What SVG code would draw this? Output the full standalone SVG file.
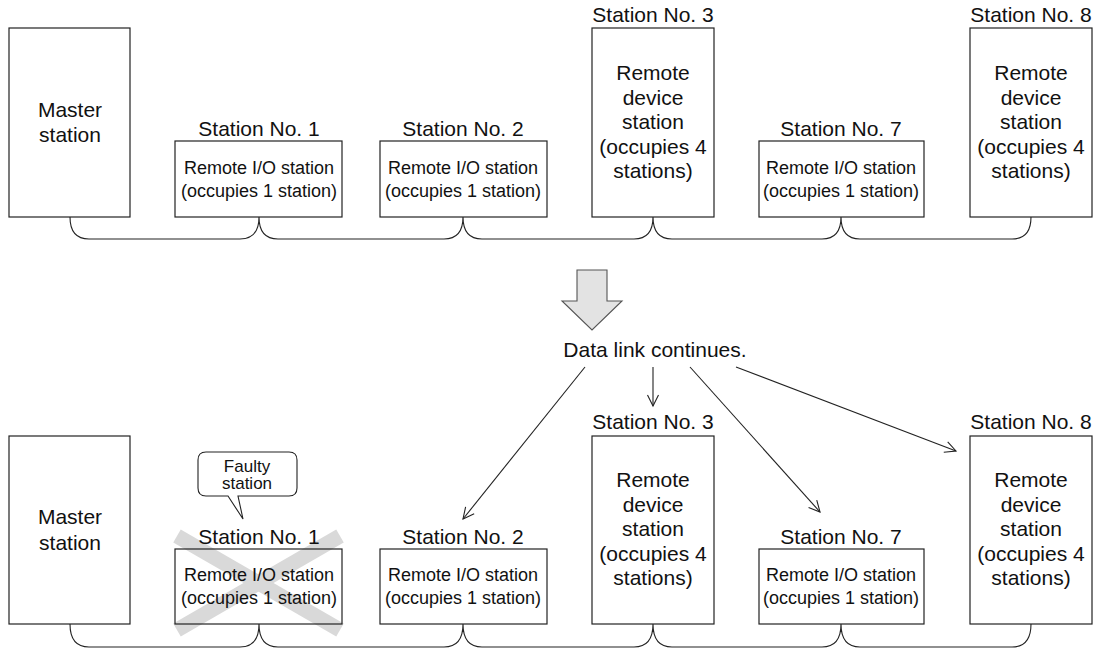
<svg xmlns="http://www.w3.org/2000/svg" width="1098" height="650" viewBox="0 0 1098 650">
<defs>
<style>
.box{fill:none;stroke:#222;stroke-width:1.2}
.bg{fill:#fff}
.big{font-family:"Liberation Sans",Arial,sans-serif;font-size:21px;fill:#111;text-anchor:middle}
.sm{font-family:"Liberation Sans",Arial,sans-serif;font-size:18px;fill:#111;text-anchor:middle}
.fs{font-family:"Liberation Sans",Arial,sans-serif;font-size:17px;fill:#111;text-anchor:middle}
.bus{fill:none;stroke:#222;stroke-width:1.1}
.arr{fill:none;stroke:#222;stroke-width:1.1;marker-end:url(#ah)}
.xl{stroke:#d9d9d9;stroke-width:15;stroke-linecap:butt}
</style>
<marker id="ah" markerUnits="userSpaceOnUse" markerWidth="14" markerHeight="14" viewBox="0 0 14 14" refX="12" refY="7" orient="auto">
<path d="M1,1.5 L12,7 L1,12.5" fill="none" stroke="#222" stroke-width="1.1"/>
</marker>
</defs>
<rect width="1098" height="650" fill="#fff"/>

<!-- TOP SECTION -->
<g id="top-master">
<rect class="box" x="9" y="28" width="121" height="189"/>
<text class="big" x="70" y="117">Master</text>
<text class="big" x="70" y="142">station</text>
</g>
<g id="top-st1">
<text class="big" x="259" y="136">Station No. 1</text>
<rect class="box" x="175" y="141" width="167" height="76"/>
<text class="sm" x="259" y="174">Remote I/O station</text>
<text class="sm" x="259" y="197">(occupies 1 station)</text>
</g>
<g id="top-st2">
<text class="big" x="463" y="136">Station No. 2</text>
<rect class="box" x="380" y="141" width="167" height="76"/>
<text class="sm" x="463" y="174">Remote I/O station</text>
<text class="sm" x="463" y="197">(occupies 1 station)</text>
</g>
<g id="top-st3">
<text class="big" x="653" y="22">Station No. 3</text>
<rect class="box" x="592" y="28" width="122" height="189"/>
<text class="big" x="653" y="80">Remote</text>
<text class="big" x="653" y="104.5">device</text>
<text class="big" x="653" y="129">station</text>
<text class="big" x="653" y="153.5">(occupies 4</text>
<text class="big" x="653" y="178">stations)</text>
</g>
<g id="top-st7">
<text class="big" x="841" y="136">Station No. 7</text>
<rect class="box" x="759" y="141" width="165" height="76"/>
<text class="sm" x="841" y="174">Remote I/O station</text>
<text class="sm" x="841" y="197">(occupies 1 station)</text>
</g>
<g id="top-st8">
<text class="big" x="1031" y="22">Station No. 8</text>
<rect class="box" x="970" y="28" width="122" height="189"/>
<text class="big" x="1031" y="80">Remote</text>
<text class="big" x="1031" y="104.5">device</text>
<text class="big" x="1031" y="129">station</text>
<text class="big" x="1031" y="153.5">(occupies 4</text>
<text class="big" x="1031" y="178">stations)</text>
</g>

<!-- BIG ARROW + LABEL -->
<g id="transition">
<polygon points="577,270 607,270 607,301 622,301 592,330 562,301 577,301" fill="#e3e3e3" stroke="#555" stroke-width="1.1"/>
<text class="big" x="655" y="357">Data link continues.</text>
</g>

<!-- BOTTOM SECTION -->
<g id="bot-master">
<rect class="box" x="9" y="436" width="121" height="188"/>
<text class="big" x="70" y="524">Master</text>
<text class="big" x="70" y="550">station</text>
</g>
<g id="bot-st1">
<line class="xl" x1="177" y1="536" x2="340" y2="630"/>
<line class="xl" x1="340" y1="536" x2="177" y2="630"/>
<text class="big" x="259" y="544">Station No. 1</text>
<rect class="box" x="175" y="549" width="167" height="75"/>
<text class="sm" x="259" y="581">Remote I/O station</text>
<text class="sm" x="259" y="604">(occupies 1 station)</text>
</g>
<g id="faulty-callout">
<path d="M206,452 H289 Q297,452 297,460 V488 Q297,496 289,496 H238 L243,519 L228,496 H206 Q198,496 198,488 V460 Q198,452 206,452 Z" fill="#fff" stroke="#222" stroke-width="1.1"/>
<text class="fs" x="247" y="472">Faulty</text>
<text class="fs" x="247" y="489">station</text>
</g>
<g id="bot-st2">
<text class="big" x="463" y="544">Station No. 2</text>
<rect class="box" x="380" y="549" width="167" height="75"/>
<text class="sm" x="463" y="581">Remote I/O station</text>
<text class="sm" x="463" y="604">(occupies 1 station)</text>
</g>
<g id="bot-st3">
<text class="big" x="653" y="429">Station No. 3</text>
<rect class="box" x="592" y="436" width="122" height="188"/>
<text class="big" x="653" y="487">Remote</text>
<text class="big" x="653" y="511.5">device</text>
<text class="big" x="653" y="536">station</text>
<text class="big" x="653" y="560.5">(occupies 4</text>
<text class="big" x="653" y="585">stations)</text>
</g>
<g id="bot-st7">
<text class="big" x="841" y="544">Station No. 7</text>
<rect class="box" x="759" y="549" width="165" height="75"/>
<text class="sm" x="841" y="581">Remote I/O station</text>
<text class="sm" x="841" y="604">(occupies 1 station)</text>
</g>
<g id="bot-st8">
<text class="big" x="1031" y="429">Station No. 8</text>
<rect class="box" x="970" y="436" width="122" height="188"/>
<text class="big" x="1031" y="487">Remote</text>
<text class="big" x="1031" y="511.5">device</text>
<text class="big" x="1031" y="536">station</text>
<text class="big" x="1031" y="560.5">(occupies 4</text>
<text class="big" x="1031" y="585">stations)</text>
</g>

<!-- CONNECTORS -->
<g id="connectors">
<path class="bus" d="M70,217 C70,231 76,239 89,239 L240,239 C253,239 259,231 259,217 C259,231 265,239 278,239 L444,239 C457,239 463,231 463,217 C463,231 469,239 482,239 L634,239 C647,239 653,231 653,217 C653,231 659,239 672,239 L822,239 C835,239 841,231 841,217 C841,231 847,239 860,239 L1012,239 C1025,239 1031,231 1031,217"/>
<path class="bus" d="M70,624 C70,639 76,647 89,647 L240,647 C253,647 259,639 259,624 C259,639 265,647 278,647 L444,647 C457,647 463,639 463,624 C463,639 469,647 482,647 L634,647 C647,647 653,639 653,624 C653,639 659,647 672,647 L822,647 C835,647 841,639 841,624 C841,639 847,647 860,647 L1012,647 C1025,647 1031,639 1031,624"/>
<line class="arr" x1="585" y1="367" x2="463" y2="519"/>
<line class="arr" x1="653" y1="367" x2="653" y2="406"/>
<line class="arr" x1="690" y1="367" x2="820" y2="512"/>
<line class="arr" x1="736" y1="367" x2="956" y2="451"/>
</g>
</svg>
